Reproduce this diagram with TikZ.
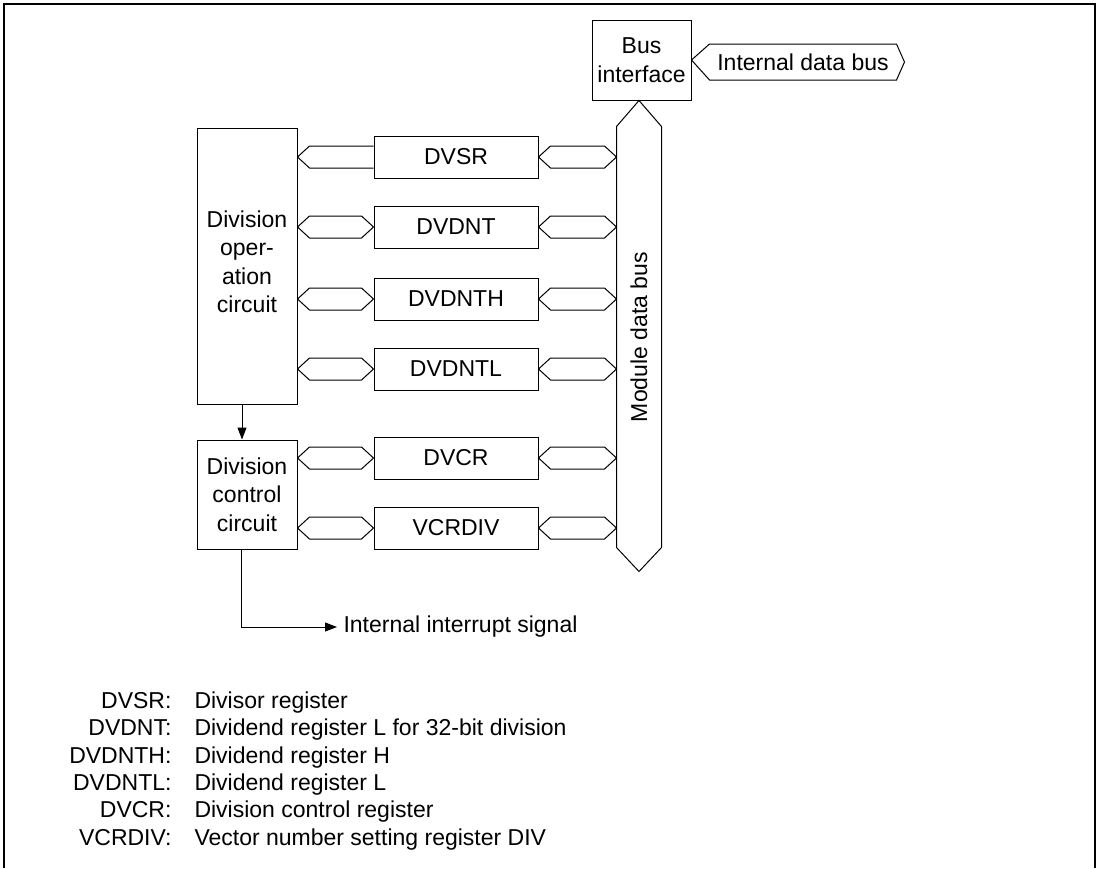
\documentclass[tikz,border=0pt]{standalone}
\usepackage{fontspec}
\setmainfont{Liberation Sans}
\usetikzlibrary{calc,arrows.meta}

% hexagonal bus arrow, tip to tip
\newcommand{\busarrow}[2]{%
  \draw (#1) -- ($(#1)+(12,-11)$) -- ($(#2)+(-12,-11)$) -- (#2)
    -- ($(#2)+(-12,11)$) -- ($(#1)+(12,11)$) -- cycle;}

\tikzset{
  box/.style={draw, inner sep=0pt, align=center},
  regbox/.style={box, minimum width=164, minimum height=42},
  keytext/.style={inner sep=0pt},
}

\begin{document}
\begin{tikzpicture}[x=1pt, y=-1pt, line width=1pt,
    font=\fontsize{23}{28.5}\selectfont,
    >={Triangle[length=12pt,width=9pt]}]
  \useasboundingbox (0,0) rectangle (1098,868);
  % Frame (open at the bottom)
  \draw[line width=1.2pt] (4,868) -- (4,4) -- (1095,4) -- (1095,868);

  % Bus interface and internal data bus
  \node[box, minimum width=99, minimum height=80] (bif) at (641.5,60) {Bus\\interface};
  \node[inner sep=0pt, minimum width=186, minimum height=35] (idb) at (803,62) {Internal data bus};
  \draw (bif.east) -- (idb.north west) -- (idb.north east) -- ([xshift=8]idb.east)
    -- (idb.south east) -- (idb.south west) -- cycle;

  % Module data bus
  \node[inner sep=0pt, minimum width=44, minimum height=420] (mbus) at (639,337) {};
  \node[rotate=90] (mbus-text) at (mbus.center) {Module data bus};
  \draw (mbus.north |- bif.south) -- (mbus.north east) -- (mbus.south east)
    -- ([yshift=-24]mbus.south) -- (mbus.south west) -- (mbus.north west) -- cycle;

  % Division circuits
  \node[box, minimum width=100, minimum height=276] (op) at (247,266) {};
  \node[align=center] (op-text) at (247,262) {Division\\oper-\\ation\\circuit};
  \node[box, minimum width=100, minimum height=109] (ctrl) at (247,494.5)
    {Division\\control\\circuit};
  \draw[->] ([xshift=-5]op.south) -- ([xshift=-5]ctrl.north);

  % Registers
  \foreach \name/\txt/\y/\src in {%
    dvsr/DVSR/157/op, dvdnt/DVDNT/227/op, dvdnth/DVDNTH/299/op,
    dvdntl/DVDNTL/369/op, dvcr/DVCR/458/ctrl, vcrdiv/VCRDIV/528/ctrl%
  }{
    \node[regbox] (\name) at (456,\y) {\txt};
    \coordinate (\name-l) at (\src.east |- \name.west);
    \coordinate (\name-r) at (mbus.west |- \name.east);
    \busarrow{\name.east}{\name-r}
  }
  % Left side buses (DVSR is one-way)
  \foreach \name in {dvdnt, dvdnth, dvdntl, dvcr, vcrdiv}{
    \busarrow{\name-l}{\name.west}
  }
  \draw ($(dvsr.west)+(0,-11)$) -- ($(dvsr-l)+(12,-11)$) -- (dvsr-l)
    -- ($(dvsr-l)+(12,11)$) -- ($(dvsr.west)+(0,11)$);

  % Interrupt output
  \node[anchor=west, inner sep=6pt] (intr) at (337,627) {Internal interrupt signal};
  \draw[->] ([xshift=-6]ctrl.south) |- (intr.west);

  % Key
  \foreach \reg/\desc/\y in {%
    DVSR/Divisor register/708.4,
    DVDNT/Dividend register L for 32-bit division/735.7,
    DVDNTH/Dividend register H/763,
    DVDNTL/Dividend register L/790.3,
    DVCR/Division control register/817.7,
    VCRDIV/Vector number setting register DIV/845%
  }{
    \node[keytext, anchor=base east] (\reg-key) at (172,\y) {\reg:};
    \node[keytext, anchor=base west] (\reg-desc) at (194,\y) {\desc};
  }
\end{tikzpicture}
\end{document}
